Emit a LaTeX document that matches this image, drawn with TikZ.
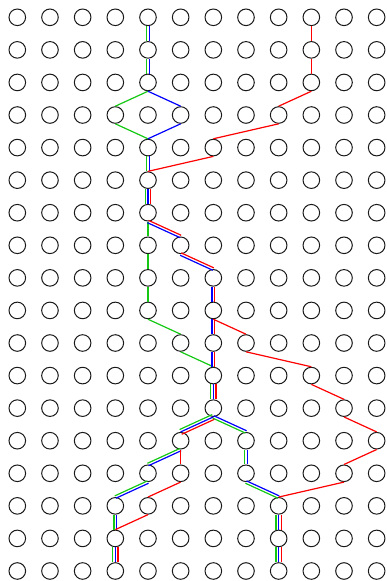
\documentclass[tikz,border=0pt]{standalone}
\usetikzlibrary{calc}

\definecolor{gpath}{RGB}{20,200,20}
\definecolor{bpath}{RGB}{0,0,255}
\definecolor{rpath}{RGB}{255,0,0}

% colour sets, each with its sideways offset
\def\setG{gpath/0pt}
\def\setB{bpath/0pt}
\def\setR{rpath/0pt}
\def\setGB{gpath/-1.3pt,bpath/1.3pt}
\def\setBR{bpath/-1.3pt,rpath/1.3pt}
\def\setGBR{gpath/-2.6pt,bpath/0pt,rpath/2.6pt}

\newcommand{\seg}[3]{%
  \foreach \col/\off in #3 {%
    \draw[trace, draw=\col] ($(#1.south)!\off!90:(#2.north)$) -- ($(#2.north)!\off!-90:(#1.south)$);}}

\begin{document}
\begin{tikzpicture}[
  x=32.67pt, y=-32.57pt,
  dot/.style={circle, draw=black!90, line width=1pt, minimum size=16.6pt, inner sep=0pt},
  trace/.style={line width=1.2pt}
]
\useasboundingbox (-17.3pt,17.3pt) rectangle (368.7pt,-563.7pt);

% grid of states
\foreach \c in {0,...,11}
  \foreach \r in {0,...,17}
    \node[dot] (v\c-\r) at (\c,\r) {};

% paths
\foreach \a/\b in {4-0/4-1, 4-1/4-2, 4-4/4-5, 6-12/7-13, 7-13/7-14, 7-14/8-15,
                   5-13/4-14, 4-14/3-15, 3-15/3-16}
  \seg{v\a}{v\b}{\setGB};
\foreach \a/\b in {4-2/3-3, 3-3/4-4, 4-6/4-7, 4-7/4-8, 4-8/4-9, 4-9/5-10, 5-10/6-11}
  \seg{v\a}{v\b}{\setG};
\foreach \a/\b in {4-2/5-3, 5-3/4-4}
  \seg{v\a}{v\b}{\setB};
\foreach \a/\b in {9-0/9-1, 9-1/9-2, 9-2/8-3, 8-3/6-4, 6-4/4-5,
                   6-9/7-10, 7-10/9-11, 9-11/10-12, 10-12/11-13, 11-13/10-14, 10-14/8-15,
                   5-13/5-14, 5-14/4-15, 4-15/3-16}
  \seg{v\a}{v\b}{\setR};
\foreach \a/\b in {4-6/5-7, 5-7/6-8, 6-8/6-9, 6-9/6-10, 6-10/6-11}
  \seg{v\a}{v\b}{\setBR};
\foreach \a/\b in {4-5/4-6, 6-11/6-12, 6-12/5-13, 3-16/3-17, 8-15/8-16, 8-16/8-17}
  \seg{v\a}{v\b}{\setGBR};
\end{tikzpicture}
\end{document}
